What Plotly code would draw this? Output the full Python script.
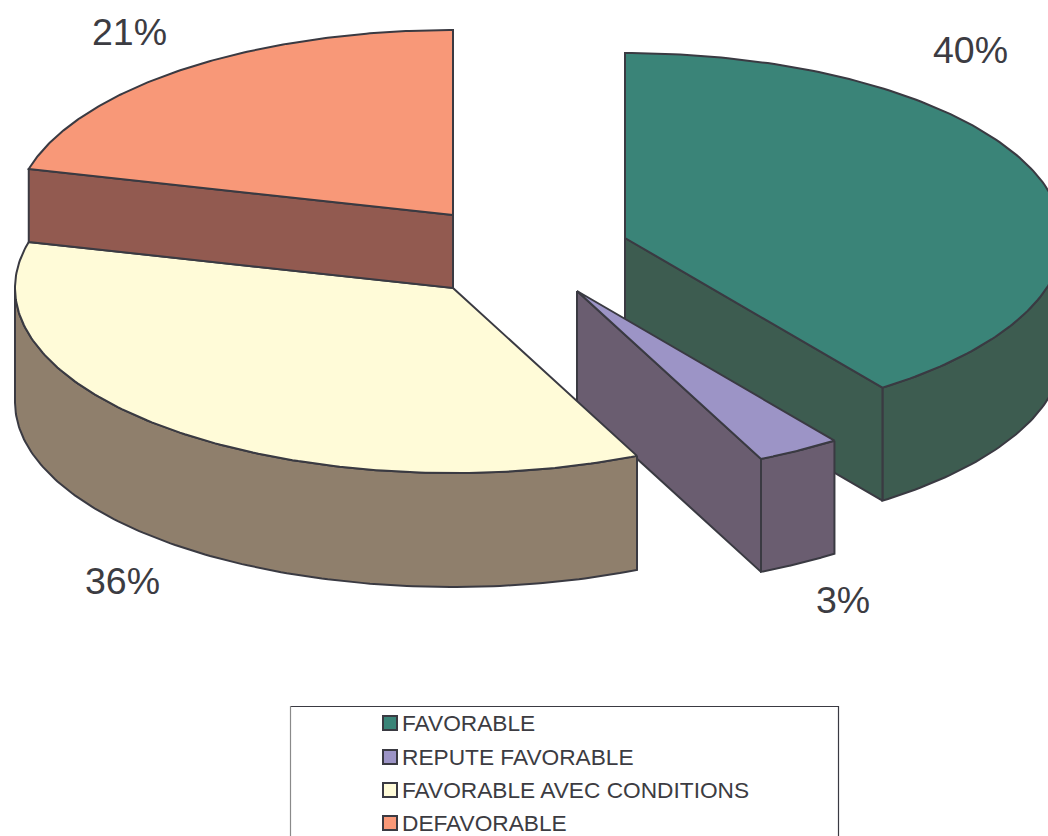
import numpy as np
import plotly.graph_objects as go

categories = ["FAVORABLE", "REPUTE FAVORABLE", "FAVORABLE AVEC CONDITIONS", "DEFAVORABLE"]
values = [40, 3.1, 35.9, 21]
tick_labels = ["40%", "3%", "36%", "21%"]

top_colors = ["#3A8478", "#9C94C6", "#FFFBD8", "#F89878"]
wall_colors = ["#3D5C50", "#6A5D70", "#8F7F6C", "#925A50"]
LINE = "#3A3A42"
TEXT = "#3C3C42"
FONT = "Liberation Sans"

RX, RY = 438, 185
centers = [(625, 238), (577, 291), (453, 288), (453, 215)]
depths = [113, 113, 114, 73]
label_pos = [(970, 50), (843, 600), (122, 581), (129, 32)]
legend_y = [723, 757, 790, 823]
# which slice edge shows its cut face: 1 = end of slice, 0 = start of slice
cut_face = [1, 1, None, 0]

fig = go.Figure()


def ell(c, a):
    return c[0] + RX * np.sin(a), c[1] - RY * np.cos(a)


def poly(xs, ys, fill):
    fig.add_trace(go.Scatter(
        x=list(xs) + [xs[0]], y=list(ys) + [ys[0]], mode="lines", fill="toself",
        fillcolor=fill, line=dict(color=LINE, width=2),
        hoverinfo="skip", showlegend=False))


# Slice angles from the values, clockwise from 12 o'clock
edges = np.concatenate([[0], np.cumsum(values)]) / sum(values) * 2 * np.pi

for i in range(4):
    c, d = centers[i], depths[i]
    a0, a1 = edges[i], edges[i + 1]
    arc = np.linspace(a0, a1, 160)
    x, y = ell(c, arc)
    # outer rim: the part of the arc on the near half of the ellipse
    near = arc[(arc >= np.pi / 2) & (arc <= 3 * np.pi / 2)]
    if len(near) > 1:
        xn, yn = ell(c, near)
        poly(list(xn) + list(xn[::-1]), list(yn) + list(yn[::-1] + d), wall_colors[i])
    # cut face looking towards the viewer
    if cut_face[i] is not None:
        ex, ey = ell(c, a1 if cut_face[i] else a0)
        poly([c[0], ex, ex, c[0]], [c[1], ey, ey + d, c[1] + d], wall_colors[i])
    poly([c[0]] + list(x), [c[1]] + list(y), top_colors[i])

# legend swatches
fig.add_trace(go.Scatter(
    x=[390] * 4, y=legend_y, mode="markers",
    marker=dict(symbol="square", size=14, color=top_colors, line=dict(color=LINE, width=2)),
    hoverinfo="skip", showlegend=False))

annotations = []
for (lx, ly), t in zip(label_pos, tick_labels):
    annotations.append(dict(x=lx, y=ly, text=t, showarrow=False, xanchor="center", yanchor="middle",
                            font=dict(family=FONT, size=37.5, color=TEXT)))
for ly, t in zip(legend_y, categories):
    annotations.append(dict(x=400, y=ly, text=t, showarrow=False, xanchor="left", yanchor="middle",
                            font=dict(family=FONT, size=22.7, color=TEXT)))

fig.update_layout(
    width=1048, height=836, margin=dict(l=0, r=0, t=0, b=0),
    paper_bgcolor="white", plot_bgcolor="white", showlegend=False,
    xaxis=dict(range=[0, 1048], visible=False, fixedrange=True),
    yaxis=dict(range=[836, 0], visible=False, fixedrange=True),
    annotations=annotations,
    shapes=[
        dict(type="line", x0=290, x1=838, y0=706.5, y1=706.5, line=dict(color="#3A3A42", width=1.2), layer="below"),
        dict(type="line", x0=290.5, x1=290.5, y0=706, y1=836, line=dict(color="#8A8A8A", width=1.2), layer="below"),
        dict(type="line", x0=838.5, x1=838.5, y0=706, y1=836, line=dict(color="#3A3A42", width=1.2), layer="below"),
    ],
)
fig.write_html("out.html", config={"displayModeBar": False},
               post_script="document.body.style.margin='0';document.body.style.overflow='hidden';")
